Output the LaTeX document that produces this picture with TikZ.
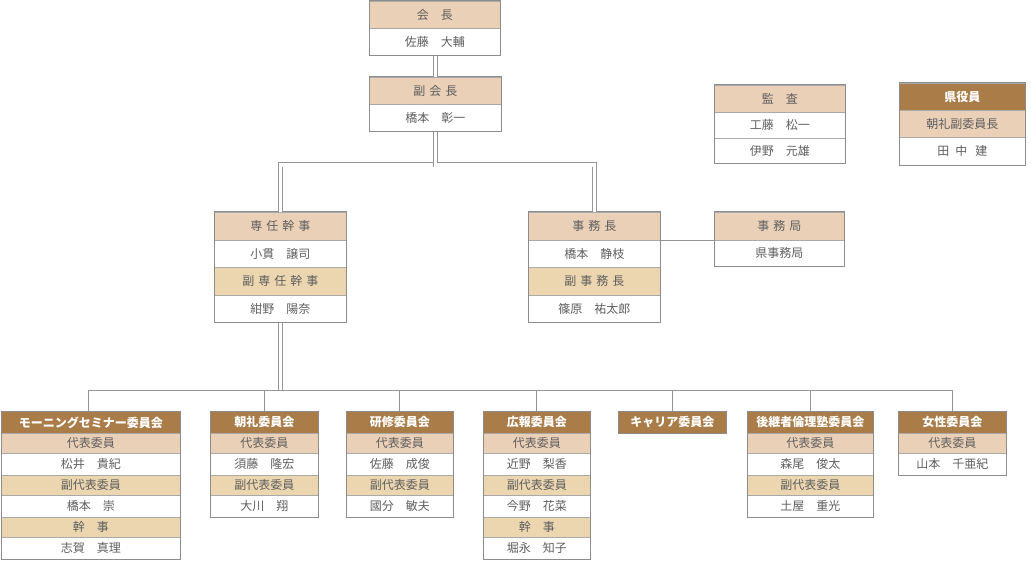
\documentclass[tikz,border=0pt]{standalone}
\usepackage{fontspec}
\newfontfamily\jp{Noto Sans CJK JP}
\definecolor{tanA}{RGB}{234,208,183}
\definecolor{tanB}{RGB}{235,214,176}
\definecolor{brownH}{RGB}{170,124,72}
\definecolor{txt}{RGB}{95,95,95}
\definecolor{rowline}{RGB}{170,170,170}
\definecolor{frameline}{RGB}{140,140,140}
\definecolor{linkc}{RGB}{150,150,150}
\newcommand{\kg}{\hspace{4pt}}
\newcommand{\cell}[7]{\node[#2, minimum width=#5pt, minimum height=#6pt] (#1) at (#3,#4) {#7};}
\newcommand{\frm}[2]{\draw[frame] (#1.north west) rectangle (#2.south east);}
\begin{document}
\begin{tikzpicture}[x=1pt,y=-1pt,
  cellbase/.style={anchor=north west, inner sep=0pt, draw=rowline, line width=0.8pt,
    font=\jp\fontsize{12}{14}\selectfont, text=txt},
  ta/.style={cellbase, fill=tanA},
  tb/.style={cellbase, fill=tanB},
  wh/.style={cellbase, fill=white},
  br/.style={cellbase, fill=brownH, text=white, font=\jp\bfseries\fontsize{12}{14}\selectfont},
  frame/.style={draw=frameline, line width=1pt},
  link/.style={draw=linkc, line width=1pt},
  dbl/.style={draw=linkc, line width=0.9pt, double=white, double distance=3.2pt}]
\useasboundingbox (0,0) rectangle (1031,561);
% top
\cell{kaicho-1}{ta}{369}{1}{131}{27}{会　長}
\cell{kaicho-2}{wh}{369}{28}{131}{27}{佐藤　大輔}
\frm{kaicho-1}{kaicho-2}
\cell{fuku-1}{ta}{369}{77}{132}{27}{副\kg 会\kg 長}
\cell{fuku-2}{wh}{369}{104}{132}{27}{橋本　彰一}
\frm{fuku-1}{fuku-2}
\cell{kansa-1}{ta}{714}{85}{131}{27}{監　査}
\cell{kansa-2}{wh}{714}{112}{131}{26}{工藤　松一}
\cell{kansa-3}{wh}{714}{138}{131}{25}{伊野　元雄}
\frm{kansa-1}{kansa-3}
\cell{ken-1}{br}{899}{83}{126}{27}{県役員}
\cell{ken-2}{ta}{899}{110}{126}{27}{朝礼副委員長}
\cell{ken-3}{wh}{899}{137}{126}{28}{田\hspace{6pt}中\hspace{8pt}建}
\frm{ken-1}{ken-3}
% middle
\cell{senin-1}{ta}{214}{212}{132}{28}{専\kg 任\kg 幹\kg 事}
\cell{senin-2}{wh}{214}{240}{132}{27}{小貫　譲司}
\cell{senin-3}{tb}{214}{267}{132}{28}{副\kg 専\kg 任\kg 幹\kg 事}
\cell{senin-4}{wh}{214}{295}{132}{27}{紺野　陽奈}
\frm{senin-1}{senin-4}
\cell{jimu-1}{ta}{528}{212}{132}{28}{事\kg 務\kg 長}
\cell{jimu-2}{wh}{528}{240}{132}{27}{橋本　静枝}
\cell{jimu-3}{tb}{528}{267}{132}{28}{副\kg 事\kg 務\kg 長}
\cell{jimu-4}{wh}{528}{295}{132}{27}{篠原　祐太郎}
\frm{jimu-1}{jimu-4}
\cell{kyoku-1}{ta}{714}{212}{130}{28}{事\kg 務\kg 局}
\cell{kyoku-2}{wh}{714}{240}{130}{26}{県事務局}
\frm{kyoku-1}{kyoku-2}
% committees
\cell{c1-1}{br}{1}{411}{179}{22}{モーニングセミナー委員会}
\cell{c1-2}{ta}{1}{433}{179}{20}{代表委員}
\cell{c1-3}{wh}{1}{453}{179}{22}{松井　貴紀}
\cell{c1-4}{tb}{1}{475}{179}{20}{副代表委員}
\cell{c1-5}{wh}{1}{495}{179}{22}{橋本　崇}
\cell{c1-6}{tb}{1}{517}{179}{20}{幹　事}
\cell{c1-7}{wh}{1}{537}{179}{22}{志賀　真理}
\frm{c1-1}{c1-7}
\cell{c2-1}{br}{210}{411}{108}{22}{朝礼委員会}
\cell{c2-2}{ta}{210}{433}{108}{20}{代表委員}
\cell{c2-3}{wh}{210}{453}{108}{22}{須藤　隆宏}
\cell{c2-4}{tb}{210}{475}{108}{20}{副代表委員}
\cell{c2-5}{wh}{210}{495}{108}{22}{大川　翔}
\frm{c2-1}{c2-5}
\cell{c3-1}{br}{346}{411}{107}{22}{研修委員会}
\cell{c3-2}{ta}{346}{433}{107}{20}{代表委員}
\cell{c3-3}{wh}{346}{453}{107}{22}{佐藤　成俊}
\cell{c3-4}{tb}{346}{475}{107}{20}{副代表委員}
\cell{c3-5}{wh}{346}{495}{107}{22}{國分　敏夫}
\frm{c3-1}{c3-5}
\cell{c4-1}{br}{483}{411}{107}{22}{広報委員会}
\cell{c4-2}{ta}{483}{433}{107}{20}{代表委員}
\cell{c4-3}{wh}{483}{453}{107}{22}{近野　梨香}
\cell{c4-4}{tb}{483}{475}{107}{20}{副代表委員}
\cell{c4-5}{wh}{483}{495}{107}{22}{今野　花菜}
\cell{c4-6}{tb}{483}{517}{107}{20}{幹　事}
\cell{c4-7}{wh}{483}{537}{107}{22}{堀永　知子}
\frm{c4-1}{c4-7}
\cell{c5-1}{br}{618}{411}{108}{22}{キャリア委員会}
\frm{c5-1}{c5-1}
\cell{c6-1}{br}{747}{411}{126}{22}{後継者倫理塾委員会}
\cell{c6-2}{ta}{747}{433}{126}{20}{代表委員}
\cell{c6-3}{wh}{747}{453}{126}{22}{森尾　俊太}
\cell{c6-4}{tb}{747}{475}{126}{20}{副代表委員}
\cell{c6-5}{wh}{747}{495}{126}{22}{土屋　重光}
\frm{c6-1}{c6-5}
\cell{c7-1}{br}{898}{411}{108}{22}{女性委員会}
\cell{c7-2}{ta}{898}{433}{108}{20}{代表委員}
\cell{c7-3}{wh}{898}{453}{108}{22}{山本　千亜紀}
\frm{c7-1}{c7-3}
% connectors
\coordinate (j1) at (0,165);
\coordinate (bus) at (0,390);
\draw[dbl] (fuku-1.north |- kaicho-2.south) -- (fuku-1.north);
\draw[dbl] (fuku-2.south) -- (fuku-2.south |- j1) -| (senin-1.north);
\draw[dbl] (fuku-2.south) -- (fuku-2.south |- j1) -| (jimu-1.north);
\draw[link] (jimu-1.south east) -- (kyoku-1.south west);
\draw[dbl] (senin-4.south) -- (senin-4.south |- bus);
\draw[link] ([xshift=-2.5pt]c1-1.north) -- ([xshift=-2.5pt]c1-1.north |- bus) -- (c7-1.north |- bus) -- (c7-1.north);
\foreach \i in {2,...,6} {\draw[link] (c\i-1.north) -- (c\i-1.north |- bus);}
\end{tikzpicture}
\end{document}
